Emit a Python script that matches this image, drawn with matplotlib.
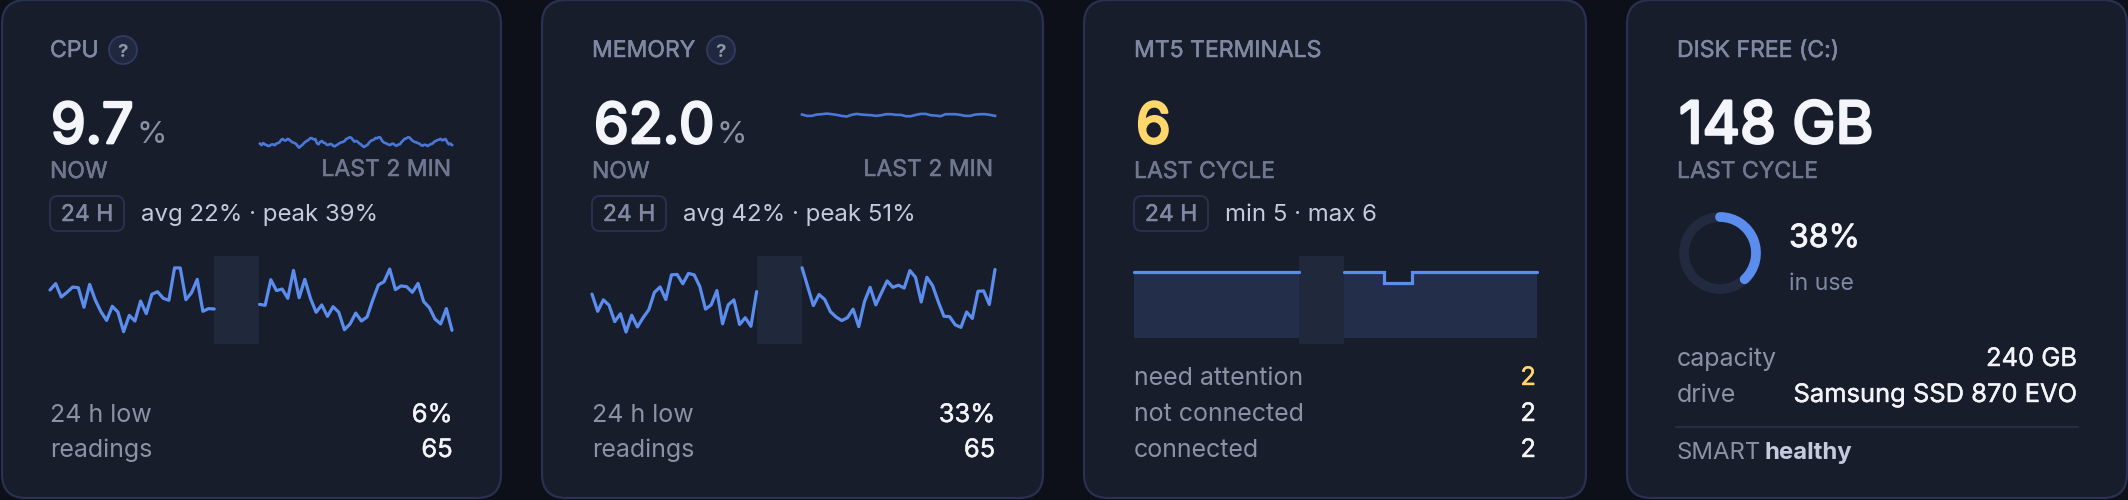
import numpy as np
import matplotlib
matplotlib.use("Agg")
import matplotlib.pyplot as plt
import matplotlib.patheffects as pe
from matplotlib.patches import FancyBboxPatch, Circle, Arc

plt.rcParams['font.family'] = ['Inter', 'DejaVu Sans']

# --- data ---
cpu_before = [27.5, 30.8, 23.9, 26.3, 29.0, 28.7, 18.6, 30.4, 22.3, 16.3, 11.8, 19.1, 16.1, 6.0, 14.4,
              11.5, 21.8, 15.3, 25.3, 26.6, 23.2, 22.2, 38.9, 38.9, 22.5, 26.1, 33.0, 16.5, 17.9, 17.7]
cpu_after = [20.1, 19.6, 32.8, 27.2, 28.0, 23.2, 37.6, 23.5, 33.0, 23.2, 16.0, 19.8, 13.9, 18.9, 16.0,
             7.0, 10.0, 15.6, 11.5, 13.6, 22.3, 30.1, 31.8, 38.3, 27.7, 29.6, 29.2, 26.3, 30.9, 21.5,
             18.4, 12.5, 10.0, 17.9, 6.7]
mem_before = [43.6, 38.8, 42.0, 40.5, 35.9, 38.1, 33.0, 37.7, 34.4, 37.0, 39.2, 44.1, 45.6, 42.1, 49.0,
              49.1, 46.5, 49.4, 49.0, 45.7, 39.4, 40.6, 44.6, 35.3, 40.6, 42.0, 35.1, 37.0, 34.6, 44.3]
mem_after = [51.0, 45.7, 40.4, 43.5, 42.1, 38.7, 37.2, 36.2, 37.0, 39.4, 34.5, 41.5, 45.5, 40.6, 44.0,
             47.3, 45.5, 46.1, 45.3, 50.2, 48.3, 41.4, 48.3, 46.0, 41.5, 37.4, 37.3, 35.0, 34.3, 38.6,
             36.8, 44.4, 44.5, 40.7, 50.5]
term_before = [6] * 30
term_after = [6, 6, 6, 6, 6, 6, 6, 5, 5, 5, 5, 5, 6, 6, 6, 6, 6, 6, 6, 6, 6, 6, 6, 6, 6, 6, 6, 6, 6, 6, 6, 6, 6, 6, 6]

# last 2 min, percent on a 0-100 scale
cpu_spark = [12.0, 9.5, 13.2, 10.6, 9.7, 7.9, 8.5, 10.4, 10.9, 9.2, 12.0, 13.1, 14.3, 18.7, 20.1, 17.6, 17.8, 20.4,
             19.0, 16.3, 14.3, 13.5, 12.0, 8.4, 5.1, 7.8, 9.7, 12.9, 15.5, 17.2, 19.0, 21.8, 21.3, 19.4, 20.1, 12.7,
             10.9, 15.2, 16.7, 13.8, 13.2, 10.1, 9.7, 11.6, 10.9, 8.3, 7.4, 9.6, 10.9, 13.2, 14.3, 15.0, 16.7, 20.3,
             21.3, 23.0, 22.5, 18.9, 15.5, 16.8, 15.5, 12.4, 10.9, 8.0, 6.2, 8.4, 9.7, 13.6, 16.7, 18.0, 19.0, 21.9,
             21.3, 23.4, 22.5, 17.2, 14.3, 13.1, 12.0, 10.2, 9.7, 11.8, 12.0, 9.3, 8.5, 10.4, 10.9, 14.8, 17.8, 20.6,
             21.3, 23.2, 22.5, 19.1, 16.7, 15.0, 14.3, 12.9, 12.0, 9.4, 8.5, 10.3, 9.7, 7.9, 9.7, 11.4, 12.0, 15.1,
             16.7, 18.2, 19.0, 20.3, 17.8, 19.2, 20.1, 15.0, 10.9, 12.3, 9.7]
mem_spark = [62.6, 60.3, 60.3, 62.6, 63.2, 64.3, 63.2, 62.0, 60.3, 59.1, 62.0, 63.7, 62.6, 62.0, 61.4, 60.3, 61.4,
             63.2, 63.2, 62.0, 62.0, 59.7, 59.7, 62.0, 63.7, 63.7, 61.4, 60.8, 59.7, 63.2, 63.2, 63.2, 62.0, 60.3,
             60.3, 62.6, 63.2, 63.2, 62.0, 60.3]

disk_used_pct = 38

titles = ["CPU", "MEMORY", "MT5 TERMINALS", "DISK FREE (C:)"]
big_values = ["9.7", "62.0", "6", "148 GB"]
sub_labels = ["NOW", "NOW", "LAST CYCLE", "LAST CYCLE"]
range_texts = ["avg 22% · peak 39%", "avg 42% · peak 51%", "min 5 · max 6"]

# --- colours ---
BG = "#0d1019"
CARD = "#181d2b"
EDGE = "#2a3150"
BLUE = "#5b8def"
SPARK = "#4a78d8"
BAND = "#20283b"
FILL = "#232e4a"
MUTED = "#7f89a3"
DIM = "#6f788f"
ROW = "#8b92a5"
SOFT = "#c3cbdc"
WHITE = "#f3f5fa"
YELLOW = "#ffd76a"

W, H = 2128, 500
fig = plt.figure(figsize=(W / 100, H / 100), dpi=100, facecolor=BG)
ax = fig.add_axes([0, 0, 1, 1], zorder=0)
ax.set_xlim(0, W)
ax.set_ylim(H, 0)
ax.axis("off")

card_x = [2, 542, 1084, 1627]
card_r = [501, 1043, 1586, 2127]
left = [50, 592, 1134, 1677]
right = [451, 994, 1536, 2077]
val_right = [452.5, 995, 1536, 2077]


def px_axes(x0, y0, x1, y1):
    a = fig.add_axes([x0 / W, 1 - y1 / H, (x1 - x0) / W, (y1 - y0) / H], zorder=2)
    a.axis("off")
    a.patch.set_alpha(0)
    return a


def put(x, y, s, size, color, stroke=0, ha="left", weight="normal"):
    # size is in css px, figure runs at 100 dpi. Inter only loads one weight here, stroke thickens it
    t = ax.text(x, y, s, fontsize=size * 0.72, color=color, fontweight=weight, ha=ha, va="baseline")
    if stroke:
        t.set_path_effects([pe.withStroke(linewidth=stroke, foreground=color)])


def card_frame(i):
    ax.add_patch(FancyBboxPatch((card_x[i] + 22, 22), card_r[i] - card_x[i] - 44, 498 - 44,
                                boxstyle="round,pad=22,rounding_size=24", fc=CARD, ec=EDGE, lw=1.6))
    put(left[i], 57, titles[i], 23, MUTED, 0.35)
    size = 58 if i == 3 else 56
    put(left[i] + (1 if i == 0 else 2), 143, big_values[i], size, YELLOW if i == 2 else WHITE, 2.0)
    put(left[i], 178, sub_labels[i], 23, DIM, 0.35)


def badge(i):
    ax.add_patch(FancyBboxPatch((left[i] + 8, 204), 58, 19, boxstyle="round,pad=8,rounding_size=8",
                                fc=CARD, ec=EDGE, lw=1.4))
    put(left[i] + 37, 221, "24 H", 23, MUTED, 0.35, ha="center")
    put(left[i] + 91, 221, range_texts[i], 24, SOFT)


def help_icon(cx):
    ax.add_patch(Circle((cx, 50), 14, fc="#20283f", ec="#2f3a5e", lw=1.4))
    ax.text(cx, 57, "?", fontsize=13.5, color="#8e96aa", fontweight="bold", ha="center", va="baseline")


def day_chart(i, before, after, ylim, step=False):
    a = px_axes(left[i], 256, right[i] + 1, 344)
    idx_b = np.arange(len(before))
    idx_a = np.arange(len(after)) + 37
    a.set_xlim(0, 71)
    a.set_ylim(*ylim)
    if step:
        a.fill_between(idx_b, 0, before, step="post", color=FILL, lw=0, zorder=1)
        a.fill_between(idx_a, 0, after, step="post", color=FILL, lw=0, zorder=1)
    a.axvspan(29, 37, color=BAND, lw=0, zorder=2)
    style = "steps-post" if step else "default"
    for xs, ys in ((idx_b, before), (idx_a, after)):
        a.plot(xs, ys, color=BLUE, lw=2.3, drawstyle=style, clip_on=False, zorder=3,
               solid_joinstyle="miter" if step else "round", solid_capstyle="round")


def spark(i, values):
    # both sparks share a 0-100 scale
    a = px_axes(left[i] + 210, 93, right[i] + 1, 150.6)
    a.set_ylim(0, 100)
    a.set_xlim(0, len(values) - 1)
    a.plot(np.arange(len(values)), values, color=SPARK, lw=1.9, clip_on=False)


def rows(i, labels, values, ys, colors=None):
    for k, (lab, val, y) in enumerate(zip(labels, values, ys)):
        put(left[i], y, lab, 25, ROW)
        put(val_right[i], y, val, 25.5, colors[k] if colors else WHITE, 0.3, ha="right")


for i in range(4):
    card_frame(i)
for i in range(3):
    badge(i)

help_icon(123)
help_icon(721)
put(137, 143, "%", 31, ROW)
put(716, 143, "%", 31, ROW)
put(451, 176, "LAST 2 MIN", 23, DIM, 0.35, ha="right")
put(993, 176, "LAST 2 MIN", 23, DIM, 0.35, ha="right")

spark(0, cpu_spark)
spark(1, mem_spark)

day_chart(0, cpu_before, cpu_after, (-0.36, 45.04))
day_chart(1, mem_before, mem_after, (29.64, 54.27))
day_chart(2, term_before, term_after, (-0.545, 7.45), step=True)

rows(0, ["24 h low", "readings"], ["6%", "65"], [422, 457])
rows(1, ["24 h low", "readings"], ["33%", "65"], [422, 457])
rows(2, ["need attention", "not connected", "connected"], ["2", "2", "2"], [385, 421, 457],
     colors=[YELLOW, WHITE, WHITE])

# disk donut
ax.add_patch(Circle((1720, 253), 36, fc="none", ec="#222a40", lw=7))
ax.add_patch(Arc((1720, 253), 72, 72, theta1=-90, theta2=-90 + 3.6 * disk_used_pct,
                 color=BLUE, lw=7, capstyle="round"))
put(1789, 247, f"{disk_used_pct}%", 32, WHITE, 0.6)
put(1789, 290, "in use", 23, MUTED)
rows(3, ["capacity", "drive"], ["240 GB", "Samsung SSD 870 EVO"], [366, 402])
ax.plot([1676, 2078], [427, 427], color=EDGE, lw=1.2)
put(1677, 459, "SMART", 24, ROW)
put(1765, 459, "healthy", 24, SOFT, weight="bold")

fig.savefig("out.png", dpi=100, facecolor=BG)
